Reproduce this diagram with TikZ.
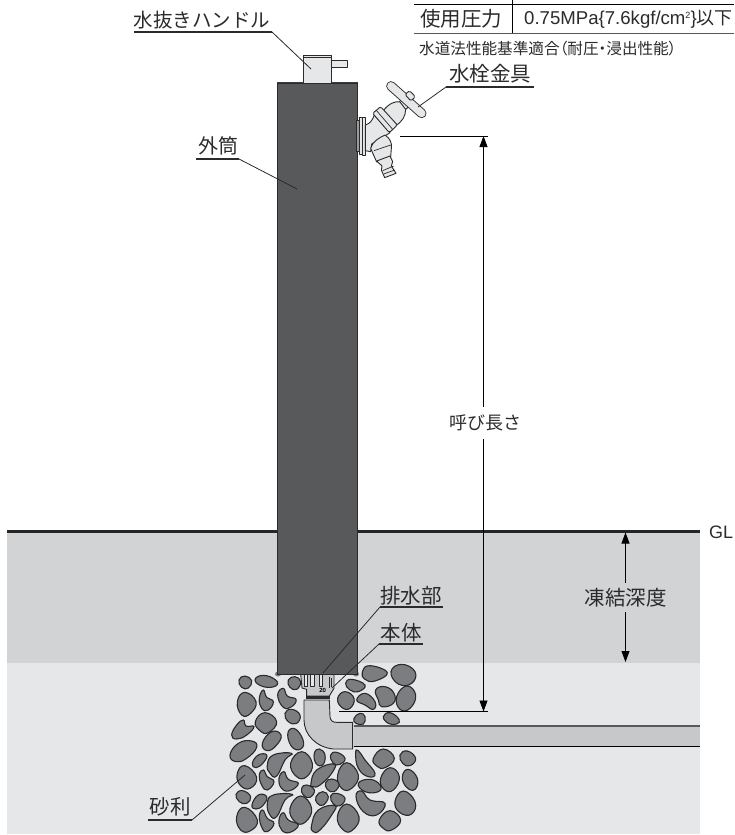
\documentclass[tikz,border=0pt]{standalone}
\usepackage{fontspec}
\usetikzlibrary{arrows.meta}
\newfontfamily\cjk{Noto Sans CJK JP}
\newfontfamily\cjkp[RawFeature=+palt]{Noto Sans CJK JP}
\newfontfamily\lat{Liberation Sans}
\definecolor{bandA}{HTML}{D1D3D4}
\definecolor{bandB}{HTML}{E6E7E8}
\definecolor{colm}{HTML}{58595B}
\definecolor{stonef}{HTML}{7B7D80}
\definecolor{inkd}{HTML}{2B2B2B}
\definecolor{pipef}{HTML}{C6C8CA}
\tikzset{
 x=1pt,y=-1pt,
 stonest/.style={draw=inkd,fill=stonef,line width=1.1pt},
 partst/.style={draw=inkd,fill=bandB,line width=0.9pt,line join=round},
 pipest/.style={draw=inkd,fill=pipef,line width=0.9pt,line join=round},
 leader/.style={draw=inkd,line width=0.8pt},
 under/.style={draw=inkd,line width=1.2pt},
 lab/.style={font=\cjk,inner sep=0pt,text=inkd},
 dimline/.style={draw=black,line width=0.8pt},
 tip/.style={-{Triangle[length=11pt,width=8pt]}},
}
\newcommand{\stone}[1]{\draw[stonest] plot[smooth cycle,tension=0.8] coordinates {#1};}
\begin{document}
\begin{tikzpicture}
\useasboundingbox (0,0) rectangle (734,835);
\fill[white] (0,0) rectangle (734,835);
% ground
\fill[bandA] (7,531) rectangle (700,663);
\fill[bandB] (7,663) rectangle (700,834);
\draw[line width=3pt,draw=black!85] (7,531) -- (700,531);
% stones
\begin{scope}[shift={(130,660)},scale=0.33333]
\stone{(327,60)(345,48)(365,62)(355,84)(335,82)}
\stone{(375,60)(400,46)(437,60)(437,78)(400,80)}
\stone{(475,60)(495,50)(512,65)(500,88)(480,82)}
\stone{(322,125)(345,97)(378,125)(362,160)(335,165)}
\stone{(388,115)(400,90)(410,112)(430,125)(415,150)(395,145)}
\stone{(443,105)(460,85)(472,108)(498,118)(485,140)(460,142)}
\stone{(465,160)(485,148)(510,165)(500,190)(475,185)}
\stone{(376,185)(405,158)(440,185)(415,218)(390,212)}
\stone{(305,225)(320,195)(340,180)(348,198)(372,200)(350,225)(320,237)}
\stone{(397,250)(425,215)(453,225)(440,255)(412,272)}
\stone{(473,225)(490,205)(515,230)(518,262)(490,265)}
\stone{(300,285)(325,250)(365,243)(380,262)(350,295)(318,305)}
\stone{(367,310)(385,285)(410,285)(400,308)(378,323)}
\stone{(412,315)(430,285)(485,280)(465,300)(440,348)(420,340)}
\stone{(482,310)(515,275)(547,310)(530,350)(500,350)}
\stone{(553,280)(568,267)(585,285)(578,315)(558,310)}
\stone{(602,285)(620,277)(645,295)(630,313)(610,310)}
\stone{(677,280)(685,272)(705,300)(735,340)(715,350)(685,325)}
\stone{(730,295)(760,267)(793,295)(765,323)(740,318)}
\stone{(810,285)(832,273)(857,295)(840,317)(818,310)}
\stone{(322,340)(345,317)(380,352)(360,385)(330,375)}
\stone{(388,345)(400,330)(412,350)(432,365)(412,390)(395,375)}
\stone{(447,355)(462,335)(475,358)(505,370)(480,392)(455,385)}
\stone{(543,370)(560,330)(612,312)(605,340)(570,375)(550,380)}
\stone{(623,345)(650,308)(685,345)(665,385)(635,385)}
\stone{(685,370)(720,358)(750,375)(745,395)(705,395)}
\stone{(752,355)(780,323)(808,350)(790,390)(762,388)}
\stone{(817,350)(835,328)(862,355)(855,388)(830,382)}
\stone{(587,368)(605,357)(627,372)(612,395)(592,388)}
\stone{(515,385)(530,375)(553,390)(540,412)(520,405)}
\stone{(318,403)(338,392)(362,410)(350,430)(328,425)}
\stone{(366,435)(385,405)(410,410)(400,435)(378,447)}
\stone{(412,430)(430,405)(487,403)(465,420)(440,470)(420,465)}
\stone{(558,410)(578,395)(595,410)(580,435)(562,430)}
\stone{(602,408)(620,400)(645,415)(630,437)(610,432)}
\stone{(678,410)(695,393)(720,420)(765,430)(740,465)(700,455)}
\stone{(795,425)(820,393)(855,425)(845,462)(810,458)}
\stone{(480,445)(512,408)(545,445)(525,487)(495,485)}
\stone{(320,470)(345,442)(382,480)(362,512)(332,510)}
\stone{(388,470)(398,450)(412,475)(432,490)(412,515)(397,505)}
\stone{(447,480)(460,458)(475,480)(505,495)(480,517)(455,510)}
\stone{(545,495)(565,450)(615,437)(605,465)(570,510)(550,515)}
\stone{(622,470)(650,432)(687,470)(668,510)(640,510)}
\stone{(748,480)(780,452)(812,480)(785,510)(760,505)}
\stone{(697,35)(720,17)(772,38)(735,63)(705,58)}
\stone{(783,35)(815,13)(855,35)(845,70)(805,72)}
\stone{(647,70)(665,58)(705,75)(685,95)(660,90)}
\stone{(737,90)(765,80)(792,100)(790,130)(755,140)(745,120)}
\stone{(800,110)(830,78)(857,105)(840,145)(810,148)}
\stone{(680,120)(705,100)(735,125)(730,148)(705,135)}
\stone{(623,115)(645,95)(672,115)(660,145)(635,142)}
\stone{(672,175)(690,160)(705,170)(700,192)(678,190)}
\stone{(760,170)(780,158)(807,178)(800,192)(775,190)}
% drain part and elbow
\draw[pipest] (512,42) -- (612,42) -- (612,85) -- (598,108) -- (530,108) -- (530,88) -- (516,84) -- cycle;
\fill[inkd] (528,108) rectangle (600,116);
\foreach \xa/\xb in {522/532,542/552,568/578}{\draw[partst,line width=0.6pt] (\xa,44) -- (\xa,78) -- (\xb,78) -- (\xb,44);}
\draw[line width=0.6pt,draw=inkd] (598,50) -- (598,85) (605,55) -- (605,80);
\draw[pipest] (522,120) -- (598,120) -- (600,170) .. controls (601,182) and (608,187) .. (620,187) -- (668,187) -- (668,267) -- (610,267) .. controls (560,262) and (522,225) .. (522,180) -- cycle;
\node[font=\lat\bfseries\fontsize{6}{6}\selectfont,inner sep=0pt] (size) at (578,92) {20};
\end{scope}
% pipe
\fill[pipef] (353.5,726) rectangle (700,746.5);
\draw[draw=colm,line width=1.7pt] (353.5,726) -- (700,726);
\draw[draw=black,line width=1pt] (353.5,746.5) -- (700,746.5);
% column
\fill[stonef] (278,674) ellipse (3 and 2.5) (356,674) ellipse (3 and 2.5);
\draw[draw=inkd,fill=colm,line width=1pt] (277.5,83) rectangle (357,674);
\draw[draw=colm!70!black,line width=1pt] (276.5,82.5) -- (358,82.5);
% drain handle
\draw[partst] (331,60.5) rectangle (347,67);
\draw[partst] (303.5,55) rectangle (331,83);
\draw[draw=inkd,line width=0.7pt] (303.5,57) -- (331,57);
% faucet
\begin{scope}[shift={(340,80)},scale=0.33333]
\draw[partst,fill=colm!60] (50,120) rectangle (58,215);
\draw[partst] (58,112) rectangle (66,222);
\draw[partst] (66,112) rectangle (76,226);
\draw[partst] (76,135) .. controls (90,130) and (95,125) .. (103,105) -- (150,158) .. controls (125,175) and (108,185) .. (95,192) -- (92,215) -- (76,212) -- cycle;
\draw[partst] (92,205) .. controls (96,185) and (120,172) .. (135,165) .. controls (150,175) and (157,190) .. (154,205) -- (152,232) -- (110,246) -- cycle;
\draw[draw=inkd,line width=0.7pt] (102,212) -- (152,195);
\draw[partst] (110,243) -- (150,228) -- (158,245) -- (154,258) -- (168,280) -- (134,293) -- (124,270) -- (126,258) -- cycle;
\draw[draw=inkd,line width=0.7pt] (128,272) -- (161,258) (131,282) -- (164,270);
\draw[partst] (178,65) -- (200,44) -- (222,66) -- (195,90) -- cycle;
\draw[partst] (130,92) .. controls (145,72) and (165,62) .. (180,66) -- (197,88) .. controls (197,110) and (185,125) .. (168,137) -- cycle;
\draw[partst,rounded corners=1.5pt] (98,100) -- (122,80) -- (172,135) -- (148,158) -- cycle;
\draw[draw=inkd,line width=0.7pt] (108,90) -- (158,148);
\draw[draw=inkd,line width=9.6pt,line cap=round] (153,18) -- (245,100);
\draw[draw=bandB,line width=7.8pt,line cap=round] (153,18) -- (245,100);
\draw[partst,rounded corners=1.5pt] (195,44) -- (208,32) -- (226,50) -- (213,63) -- cycle;
\end{scope}
% table
\coordinate (tl) at (414,4); \coordinate (tr) at (734,4);
\coordinate (bl) at (414,33.5); \coordinate (br) at (734,33.5);
\coordinate (vt) at (512.5,0); \coordinate (vb) at (512.5,33.5);
\draw[draw=black,line width=0.9pt] (tl) -- (tr) (vt) -- (vb);
\draw[draw=colm,line width=1.6pt] (bl) -- (br);
\node[lab,font=\cjk\fontsize{20.5}{20.5}\selectfont] (cellk) at (461,18.5) {使用圧力};
\node[lab,anchor=west,font=\lat\fontsize{18.6}{18.6}\selectfont] (cellv) at (524,19) {0.75MPa\{7.6kgf/cm\raisebox{0.55ex}{\fontsize{9}{9}\selectfont 2}\}{\cjk\fontsize{18}{18}\selectfont 以下}};
\node[lab,anchor=west,font=\cjkp\fontsize{15.6}{15.6}\selectfont] (note) at (419,48.5) {水道法性能基準適合（耐圧・浸出性能）};
% labels
\node[lab,font=\cjk\fontsize{19.5}{19.5}\selectfont] (handle) at (202,20) {水抜きハンドル};
\coordinate (hA) at (134,32); \coordinate (hB) at (272,32); \coordinate (hC) at (311,69);
\draw[under] (hA) -- (hB); \draw[leader] (hB) -- (hC);
\node[lab,font=\cjk\fontsize{20}{20}\selectfont] (outer) at (218,146) {外筒};
\coordinate (oA) at (196,159); \coordinate (oB) at (239,159); \coordinate (oC) at (297,189);
\draw[under] (oA) -- (oB); \draw[leader] (oB) -- (oC);
\node[lab,font=\cjk\fontsize{20.5}{20.5}\selectfont] (faucet) at (490,74) {水栓金具};
\coordinate (fA) at (446,87); \coordinate (fB) at (534,87); \coordinate (fC) at (418,107);
\draw[under] (fA) -- (fB); \draw[leader] (fA) -- (fC);
\node[lab,font=\cjk\fontsize{20.5}{20.5}\selectfont] (drain) at (411,596) {排水部};
\coordinate (dA) at (380,607); \coordinate (dB) at (443,607); \coordinate (dC) at (323,673);
\draw[under] (dA) -- (dB); \draw[leader] (dA) -- (dC);
\node[lab,font=\cjk\fontsize{20.5}{20.5}\selectfont] (body) at (401,633) {本体};
\coordinate (bA) at (379,644); \coordinate (bB) at (423,644); \coordinate (bC) at (332,688);
\draw[under] (bA) -- (bB); \draw[leader] (bA) -- (bC);
\node[lab,font=\cjk\fontsize{20.5}{20.5}\selectfont] (gravel) at (170,807) {砂利};
\coordinate (gA) at (148,820); \coordinate (gB) at (192,820); \coordinate (gC) at (245,775);
\draw[under] (gA) -- (gB); \draw[leader] (gB) -- (gC);
% dimension: nominal length
\coordinate (d1a) at (400,136); \coordinate (d1b) at (488,136);
\coordinate (d2a) at (339,711.5); \coordinate (d2b) at (488,711.5);
\coordinate (atop) at (483.5,136); \coordinate (abot) at (483.5,711.5);
\draw[dimline] (d1a) -- (d1b); \draw[dimline] (d2a) -- (d2b);
\node[lab,font=\cjk\fontsize{18}{18}\selectfont,minimum height=32pt,minimum width=72pt] (nominal) at (485,423) {呼び長さ};
\draw[dimline,tip] (nominal.north -| atop) -- (atop);
\draw[dimline,tip] (nominal.south -| abot) -- (abot);
% dimension: frost depth
\coordinate (ftop) at (625.5,532.5); \coordinate (fbot) at (625.5,662);
\node[lab,font=\cjk\fontsize{20.5}{20.5}\selectfont,minimum height=29pt] (frost) at (625.5,597.5) {凍結深度};
\draw[dimline,tip] (frost) -- (ftop);
\draw[dimline,tip] (frost) -- (fbot);
\node[lab,font=\lat\fontsize{18}{18}\selectfont] (gl) at (721,532) {GL};
\end{tikzpicture}
\end{document}
